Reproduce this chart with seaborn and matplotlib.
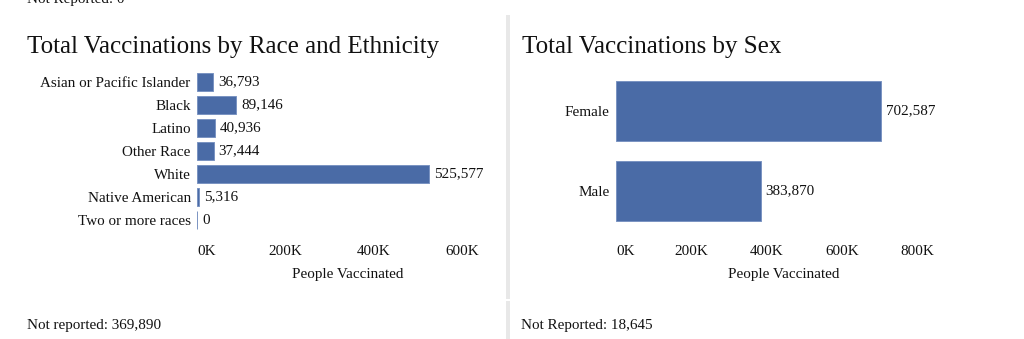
import matplotlib
matplotlib.use("Agg")
import matplotlib.pyplot as plt
from matplotlib.patches import Rectangle
import seaborn as sns
import pandas as pd

# ---- data ----
race_categories = ["Asian or Pacific Islander", "Black", "Latino", "Other Race",
                   "White", "Native American", "Two or more races"]
race_values = [36793, 89146, 40936, 37444, 525577, 5316, 0]
race_not_reported = "Not reported: 369,890"

sex_categories = ["Female", "Male"]
sex_values = [702587, 383870]
sex_not_reported = "Not Reported: 18,645"

top_note = "Not Reported: 0"
race_ticks = [0, 200000, 400000, 600000]
race_tick_labels = ["0K", "200K", "400K", "600K"]
sex_ticks = [0, 200000, 400000, 600000, 800000]
sex_tick_labels = ["0K", "200K", "400K", "600K", "800K"]
x_label = "People Vaccinated"
title_race = "Total Vaccinations by Race and Ethnicity"
title_sex = "Total Vaccinations by Sex"

# ---- style ----
sns.set_theme(style="white")
plt.rcParams["font.family"] = ["Liberation Serif", "DejaVu Serif"]

W, H = 1024, 339
DPI = 100
fig = plt.figure(figsize=(W / DPI, H / DPI), dpi=DPI)
fig.patch.set_facecolor("white")

BAR = "#4a6ba6"
EDGE = "#7a93c2"
FS = 10.9
TFS = 18


def rect(x0, y0, x1, y1):
    return [x0 / W, 1 - y1 / H, (x1 - x0) / W, (y1 - y0) / H]


def fy(y):
    return 1 - y / H


def draw(ax, cats, vals, ticks, tlabels, xmax):
    df = pd.DataFrame({"category": cats, "value": vals})
    sns.barplot(data=df, x="value", y="category", orient="h", color=BAR,
                saturation=1, width=0.75, edgecolor=EDGE, linewidth=0.7, ax=ax)
    ax.set_xlim(0, xmax)
    ax.set_ylim(len(cats) - 0.5, -0.5)
    ax.set_xticks(ticks)
    ax.set_xticklabels(tlabels, fontsize=FS, color="#111111")
    ax.get_xticklabels()[0].set_ha("left")
    ax.tick_params(axis="x", length=0, pad=10)
    ax.tick_params(axis="y", length=0, pad=4.5, labelsize=FS, labelcolor="#111111")
    ax.set_ylabel("")
    ax.set_xlabel(x_label, fontsize=FS, color="#111111", labelpad=7)
    for s in ax.spines.values():
        s.set_visible(False)
    ax.set_facecolor("none")
    ax.bar_label(ax.containers[0], labels=[f"{v:,}" for v in vals],
                 padding=3.6, fontsize=FS, color="#111111")


ax1 = fig.add_axes(rect(197, 70.5, 499, 231.5))
draw(ax1, race_categories, race_values, race_ticks, race_tick_labels, 683000)

ax2 = fig.add_axes(rect(616, 71, 952, 231))
draw(ax2, sex_categories, sex_values, sex_ticks, sex_tick_labels, 892000)

# titles and notes
fig.text(27 / W, fy(53), title_race, fontsize=TFS, va="baseline", ha="left", color="#111111")
fig.text(521.5 / W, fy(53), title_sex, fontsize=TFS, va="baseline", ha="left", color="#111111")
fig.text(27 / W, fy(3), top_note, fontsize=FS, va="baseline", ha="left", color="#111111")
fig.text(27 / W, fy(329), race_not_reported, fontsize=FS, va="baseline", ha="left", color="#111111")
fig.text(521 / W, fy(329), sex_not_reported, fontsize=FS, va="baseline", ha="left", color="#111111")

# divider
for y0, y1 in [(15, 299), (301, 339)]:
    fig.patches.append(Rectangle((506 / W, fy(y1)), 4 / W, (y1 - y0) / H,
                                 transform=fig.transFigure, facecolor="#e8e8e8",
                                 edgecolor="none", zorder=0))

fig.savefig("out.png", dpi=DPI, facecolor="white")
